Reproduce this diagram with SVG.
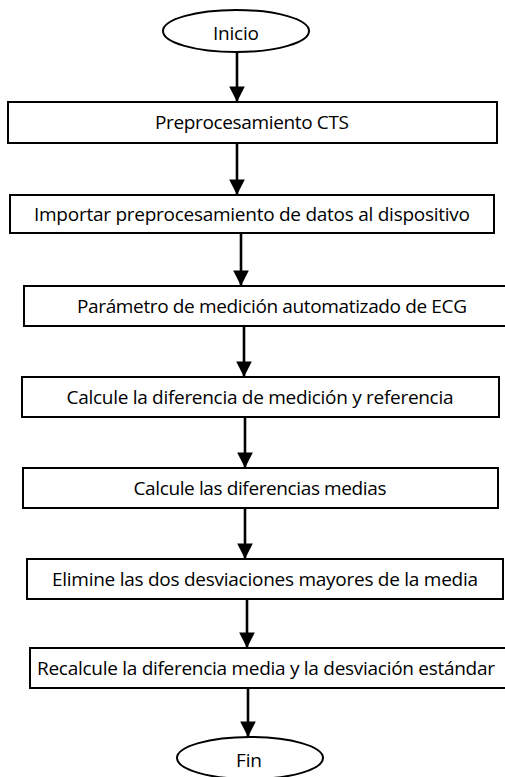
<svg xmlns="http://www.w3.org/2000/svg" width="505" height="777" viewBox="0 0 505 777">
<defs>
<marker id="ah" markerWidth="6" markerHeight="6" refX="6" refY="3" orient="auto" markerUnits="strokeWidth">
<path d="M0,0 L6,3 L0,6 Z" fill="#000"/>
</marker>
<style>
.box{fill:#fff;stroke:#000;stroke-width:2}
.t{font-family:"Open Sans","Liberation Sans",sans-serif;font-size:19px;fill:#000;text-anchor:middle}
.c{stroke:#000;stroke-width:2.6;fill:none;marker-end:url(#ah)}
</style>
</defs>
<rect width="505" height="777" fill="#fff"/>
<g id="connectors">
<line class="c" x1="237" y1="52" x2="237" y2="102"/>
<line class="c" x1="237" y1="143" x2="237" y2="195"/>
<line class="c" x1="241" y1="233" x2="241" y2="286"/>
<line class="c" x1="244" y1="326" x2="244" y2="377"/>
<line class="c" x1="245" y1="417" x2="245" y2="468"/>
<line class="c" x1="245" y1="508" x2="245" y2="559"/>
<line class="c" x1="247" y1="599" x2="247" y2="648"/>
<line class="c" x1="248" y1="688" x2="248" y2="737"/>
</g>
<g id="inicio">
<ellipse class="box" cx="236" cy="31" rx="73" ry="21"/>
<text class="t" x="236" y="40" textLength="46">Inicio</text>
</g>
<g id="n1">
<rect class="box" x="8" y="102" width="489" height="41"/>
<text class="t" x="252" y="129" textLength="194">Preprocesamiento CTS</text>
</g>
<g id="n2">
<rect class="box" x="10" y="195" width="484" height="38"/>
<text class="t" x="252" y="221" textLength="436">Importar preprocesamiento de datos al dispositivo</text>
</g>
<g id="n3">
<rect class="box" x="24" y="286" width="496" height="40"/>
<text class="t" x="272" y="313" textLength="390">Parámetro de medición automatizado de ECG</text>
</g>
<g id="n4">
<rect class="box" x="22" y="377" width="477" height="40"/>
<text class="t" x="260" y="404" textLength="387">Calcule la diferencia de medición y referencia</text>
</g>
<g id="n5">
<rect class="box" x="23" y="468" width="475" height="40"/>
<text class="t" x="260" y="495" textLength="253">Calcule las diferencias medias</text>
</g>
<g id="n6">
<rect class="box" x="27" y="559" width="476" height="40"/>
<text class="t" x="265" y="586" textLength="426">Elimine las dos desviaciones mayores de la media</text>
</g>
<g id="n7">
<rect class="box" x="30" y="648" width="480" height="40"/>
<text class="t" x="266" y="675" textLength="458">Recalcule la diferencia media y la desviación estándar</text>
</g>
<g id="fin">
<ellipse class="box" cx="250" cy="758" rx="73" ry="21"/>
<text class="t" x="249" y="767" textLength="26">Fin</text>
</g>
</svg>
